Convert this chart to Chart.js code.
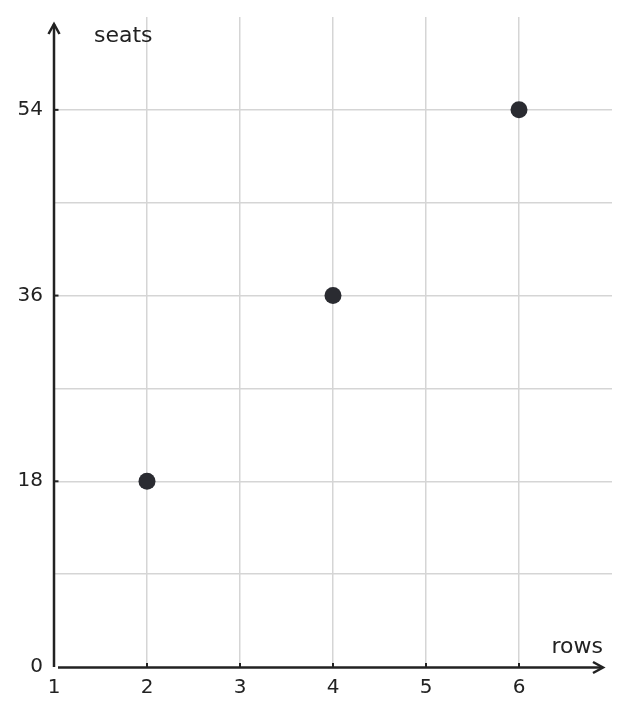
<!DOCTYPE html>
<html>
<head>
<meta charset="utf-8">
<script src="https://cdn.jsdelivr.net/npm/chart.js@4/dist/chart.umd.min.js"></script>
<style>
html,body{margin:0;padding:0;background:#fff;}
#wrap{width:629px;height:716px;position:relative;}
</style>
</head>
<body>
<div id="wrap"><canvas id="c" width="629" height="716"></canvas></div>
<script>
const rows = [2, 4, 6];
const seats = [18, 36, 54];
const xTickLabels = ['1', '2', '3', '4', '5', '6'];
const yTickLabels = ['0', '18', '36', '54'];
const xTitle = 'rows';
const yTitle = 'seats';

const AX = '#222222';
const FONT = 'DejaVu Sans';

const axesPlugin = {
  id: 'axesPlugin',
  afterDraw(chart) {
    const ctx = chart.ctx;
    const xs = chart.scales.x, ys = chart.scales.y;
    const x0 = xs.getPixelForValue(1), y0 = ys.getPixelForValue(0);
    ctx.save();
    ctx.strokeStyle = AX; ctx.fillStyle = AX;
    ctx.lineWidth = 2.5; ctx.lineCap = 'butt';
    // y axis
    ctx.beginPath(); ctx.moveTo(x0, y0); ctx.lineTo(x0, 24); ctx.stroke();
    ctx.lineJoin = 'miter';
    ctx.beginPath(); ctx.moveTo(x0 - 5.5, 34); ctx.lineTo(x0, 24); ctx.lineTo(x0 + 5.5, 34); ctx.stroke();
    // x axis
    ctx.beginPath(); ctx.moveTo(x0 + 4, y0 + 0.5); ctx.lineTo(603, y0 + 0.5); ctx.stroke();
    ctx.beginPath(); ctx.moveTo(593, y0 + 0.5 - 5.5); ctx.lineTo(603, y0 + 0.5); ctx.lineTo(593, y0 + 0.5 + 5.5); ctx.stroke();
    // tick marks
    ctx.lineWidth = 2;
    xTickLabels.forEach(t => {
      const v = Number(t); if (v === 1) return;
      const px = xs.getPixelForValue(v);
      ctx.beginPath(); ctx.moveTo(px, y0 + 0.5); ctx.lineTo(px, y0 - 4); ctx.stroke();
    });
    yTickLabels.forEach(t => {
      const v = Number(t); if (v === 0) return;
      const py = ys.getPixelForValue(v);
      ctx.beginPath(); ctx.moveTo(x0, py); ctx.lineTo(x0 + 4.5, py); ctx.stroke();
    });
    // titles
    ctx.font = '22px "' + FONT + '"';
    ctx.fillStyle = '#222';
    ctx.textBaseline = 'middle';
    ctx.textAlign = 'left';
    ctx.fillText(yTitle, 94, 36);
    ctx.textAlign = 'right';
    ctx.fillText(xTitle, 603, 647);
    ctx.restore();
  }
};

new Chart(document.getElementById('c'), {
  type: 'scatter',
  data: {
    datasets: [{
      data: rows.map((r, i) => ({x: r, y: seats[i]})),
      backgroundColor: '#2a2b31',
      borderColor: '#2a2b31',
      pointRadius: 8.5,
      pointHoverRadius: 8.5,
      borderWidth: 0
    }]
  },
  options: {
    responsive: false,
    animation: false,
    events: [],
    layout: {padding: {top: 17, right: 17, left: 0, bottom: 0}},
    plugins: {legend: {display: false}, tooltip: {enabled: false}},
    scales: {
      x: {
        type: 'linear', min: 1, max: 7,
        afterFit(s) { s.height = 716 - 667; s.paddingLeft = 0; s.paddingRight = 0; },
        border: {display: false},
        grid: {
          drawTicks: false,
          lineWidth: 1.5,
          color: ctx => (ctx.tick && (ctx.tick.value === 1 || ctx.tick.value === 7)) ? 'rgba(0,0,0,0)' : '#d5d5d5'
        },
        ticks: {
          stepSize: 1,
          padding: 9,
          color: '#222',
          font: {family: FONT, size: 20},
          callback: v => xTickLabels.includes(String(v)) ? String(v) : ''
        }
      },
      y: {
        type: 'linear', min: 0, max: 63,
        afterFit(s) { s.width = 54; s.paddingTop = 0; s.paddingBottom = 0; },
        border: {display: false},
        grid: {
          drawTicks: false,
          lineWidth: 1.5,
          color: ctx => (ctx.tick && (ctx.tick.value === 0 || ctx.tick.value === 63)) ? 'rgba(0,0,0,0)' : '#d5d5d5'
        },
        ticks: {
          stepSize: 9,
          padding: 11,
          color: '#222',
          font: {family: FONT, size: 20},
          callback: v => yTickLabels.includes(String(v)) ? String(v) : ''
        }
      }
    }
  },
  plugins: [axesPlugin]
});
</script>
</body>
</html>
